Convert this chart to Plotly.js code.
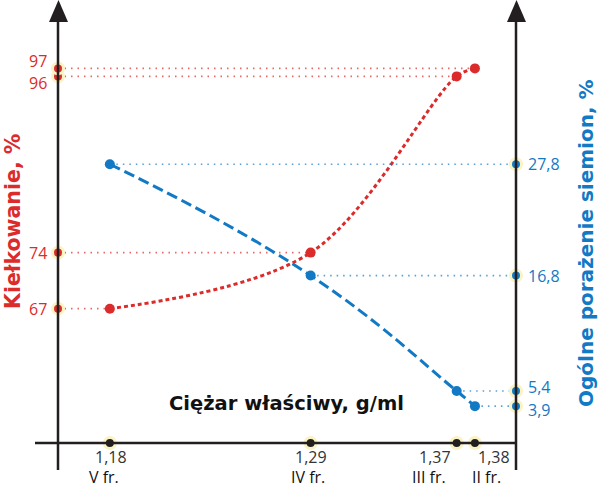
<!DOCTYPE html>
<html>
<head>
<meta charset="utf-8">
<script src="https://cdn.plot.ly/plotly-3.0.1.min.js"></script>
<style>html,body{margin:0;padding:0;background:#fff;}#chart{width:600px;height:490px;}</style>
</head>
<body>
<div id="chart"></div>
<script>
// ---- data ----
const xVals = [1.18, 1.29, 1.37, 1.38];
const xTickText = ['1,18', '1,29', '1,37', '1,38'];
const fractionLabels = ['V fr.', 'IV fr.', 'III fr.', 'II fr.'];
const germination = [67, 74, 96, 97];
const germLabels = ['67', '74', '96', '97'];
const infection = [27.8, 16.8, 5.4, 3.9];
const infLabels = ['27,8', '16,8', '5,4', '3,9'];

// ---- styling / layout constants ----
const RED = '#dc2b2b', BLUE = '#1279c4', AX = '#231f20', HALO = '#fbf3c4';
const X_RANGE = [1.1516, 1.4025];
const Y_RANGE = [50.23, 103.04];
const Y2_RANGE = [0.26, 42.05];
const M = {l: 58, r: 84, t: 20, b: 47};
const W = 600, H = 490;
const PW = W - M.l - M.r, PH = H - M.t - M.b;
const px = v => (v - M.l) / PW;
const py = v => (H - M.b - v) / PH;
const FONT = 'Open Sans, sans-serif';
const TFONT = 'DejaVu Sans, sans-serif';
// label placement tweaks (style only)
const numAnchor = ['center', 'center', 'right', 'left'];
const numShift = [1, 0, -4, 1];
const frShift = [-6, -3, -9, -5];
const germLabelShift = [0, 0, -7, 7];
const infLabelShift = [0, 0, 4, -4];

const traces = [];
// guide lines
for (let i = 0; i < xVals.length; i++) {
  traces.push({x: [X_RANGE[0], xVals[i]], y: [germination[i], germination[i]], mode: 'lines',
    line: {color: RED, width: 1.6, dash: '1.5px,5px'}, opacity: 0.7, hoverinfo: 'skip', cliponaxis: false});
  traces.push({x: [xVals[i], X_RANGE[1]], y: [infection[i], infection[i]], yaxis: 'y2', mode: 'lines',
    line: {color: BLUE, width: 1.6, dash: '1.5px,5px'}, opacity: 0.7, hoverinfo: 'skip', cliponaxis: false});
}
// curves
traces.push({x: xVals, y: germination, mode: 'lines', line: {color: RED, width: 3, dash: '4px,3px', shape: 'spline', smoothing: 1}, hoverinfo: 'skip'});
traces.push({x: xVals, y: infection, yaxis: 'y2', mode: 'lines', line: {color: BLUE, width: 3, dash: '11px,5px', shape: 'spline', smoothing: 1.3}, hoverinfo: 'skip'});
// points
traces.push({x: xVals, y: germination, mode: 'markers', marker: {color: RED, size: 10}, cliponaxis: false});
traces.push({x: xVals, y: infection, yaxis: 'y2', mode: 'markers', marker: {color: BLUE, size: 10}, cliponaxis: false});
// axis markers
traces.push({x: germination.map(() => X_RANGE[0]), y: germination, mode: 'markers',
  marker: {color: RED, size: 11, line: {color: HALO, width: 3}}, cliponaxis: false});
traces.push({x: infection.map(() => X_RANGE[1]), y: infection, yaxis: 'y2', mode: 'markers',
  marker: {color: BLUE, size: 11, line: {color: HALO, width: 3}}, cliponaxis: false});
traces.push({x: xVals, y: xVals.map(() => Y_RANGE[0]), mode: 'markers',
  marker: {color: AX, size: 11, line: {color: HALO, width: 3}}, cliponaxis: false});

const annotations = [];
for (let i = 0; i < xVals.length; i++) {
  annotations.push({x: xVals[i], xref: 'x', y: 0, yref: 'paper', text: xTickText[i], showarrow: false,
    xanchor: numAnchor[i], xshift: numShift[i], yanchor: 'middle', yshift: -14,
    font: {family: FONT, size: 16, color: '#333'}});
  annotations.push({x: xVals[i], xref: 'x', y: 0, yref: 'paper', text: fractionLabels[i], showarrow: false,
    xanchor: numAnchor[i], xshift: frShift[i], yanchor: 'middle', yshift: -34,
    font: {family: FONT, size: 16, color: '#111'}});
}
for (let i = 0; i < germination.length; i++) {
  annotations.push({x: 0, xref: 'paper', y: germination[i], yref: 'y', text: germLabels[i], showarrow: false,
    xanchor: 'right', xshift: -9, yanchor: 'middle', yshift: germLabelShift[i],
    font: {family: FONT, size: 16, color: RED}});
  annotations.push({x: 1, xref: 'paper', y: infection[i], yref: 'y2', text: infLabels[i], showarrow: false,
    xanchor: 'left', xshift: 10, yanchor: 'middle', yshift: infLabelShift[i],
    font: {family: FONT, size: 16, color: BLUE}});
}
annotations.push({x: px(286), xref: 'paper', y: py(403), yref: 'paper', text: 'Ciężar właściwy, g/ml', showarrow: false,
  xanchor: 'center', yanchor: 'middle', font: {family: TFONT, size: 19.5, color: '#111', weight: 'bold'}});
annotations.push({x: px(13), xref: 'paper', y: py(222), yref: 'paper', text: 'Kiełkowanie, %', showarrow: false,
  textangle: -90, xanchor: 'center', yanchor: 'middle', font: {family: TFONT, size: 20.5, color: RED, weight: 'bold'}});
annotations.push({x: px(586), xref: 'paper', y: py(243), yref: 'paper', text: 'Ogólne porażenie siemion, %', showarrow: false,
  textangle: -90, xanchor: 'center', yanchor: 'middle', font: {family: TFONT, size: 20, color: BLUE, weight: 'bold'}});

const shapes = [
  {type: 'line', xref: 'paper', yref: 'paper', x0: px(58), x1: px(58), y0: py(470), y1: py(18), line: {color: AX, width: 2.5}},
  {type: 'line', xref: 'paper', yref: 'paper', x0: px(516), x1: px(516), y0: py(470), y1: py(18), line: {color: AX, width: 2.5}},
  {type: 'line', xref: 'paper', yref: 'paper', x0: px(35), x1: px(516), y0: py(443), y1: py(443), line: {color: AX, width: 2.5}},
  {type: 'path', xref: 'paper', yref: 'paper', path: `M ${px(49)} ${py(22)} L ${px(58.5)} ${py(0)} L ${px(68)} ${py(22)} Z`, fillcolor: AX, line: {width: 0}},
  {type: 'path', xref: 'paper', yref: 'paper', path: `M ${px(507)} ${py(22)} L ${px(516.5)} ${py(0)} L ${px(526)} ${py(22)} Z`, fillcolor: AX, line: {width: 0}}
];

const layout = {
  width: W, height: H, margin: {l: M.l, r: M.r, t: M.t, b: M.b, pad: 0},
  paper_bgcolor: '#fff', plot_bgcolor: '#fff', showlegend: false,
  xaxis: {range: X_RANGE, showgrid: false, zeroline: false, showline: false, showticklabels: false, ticks: ''},
  yaxis: {range: Y_RANGE, showgrid: false, zeroline: false, showline: false, ticks: '', showticklabels: false},
  yaxis2: {range: Y2_RANGE, overlaying: 'y', side: 'right', showgrid: false, zeroline: false, showline: false, ticks: '', showticklabels: false},
  annotations: annotations, shapes: shapes
};

Plotly.newPlot('chart', traces, layout, {displayModeBar: false, staticPlot: true});
</script>
</body>
</html>
